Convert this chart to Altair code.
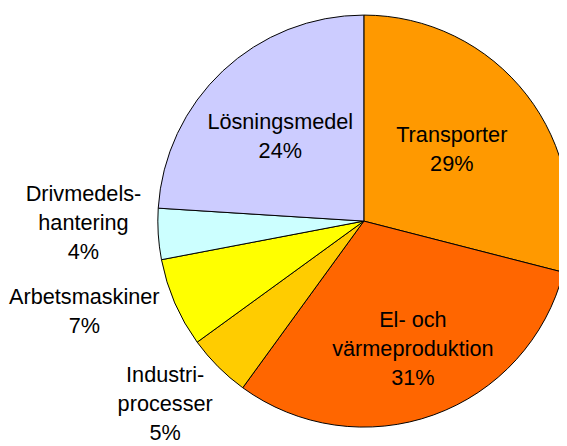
import altair as alt
import pandas as pd

categories = ["Transporter", "El- och värmeproduktion", "Industriprocesser",
              "Arbetsmaskiner", "Drivmedelshantering", "Lösningsmedel"]
label_lines = ["Transporter", "El- och\nvärmeproduktion", "Industri-\nprocesser",
               "Arbetsmaskiner", "Drivmedels-\nhantering", "Lösningsmedel"]
values = [29, 31, 5, 7, 4, 24]
colors = ["#FF9900", "#FF6600", "#FFCC00", "#FFFF00", "#CCFFFF", "#CCCCFF"]
placement = ["in", "in", "out", "out", "out", "in"]

df = pd.DataFrame({
    "cat": categories,
    "lbl": label_lines,
    "value": values,
    "order": list(range(len(categories))),
    "place": placement,
    "nlines": [s.count("\n") + 2 for s in label_lines],
})

CX, CY, R = 361, 213, 209
LH = 29.5
theta_scale = alt.Scale(domain=[0, 100])

base = alt.Chart(df).transform_window(
    cum="sum(value)", sort=[{"field": "order"}], frame=[None, 0]
).transform_calculate(
    start="datum.cum - datum.value",
    mid="datum.cum - datum.value / 2",
    txt="datum.lbl + '\\n' + datum.value + '%'",
)

arcs = base.mark_arc(outerRadius=R, stroke="black", strokeWidth=1).encode(
    theta=alt.Theta("start:Q", scale=theta_scale),
    theta2="cum:Q",
    color=alt.Color("cat:N", scale=alt.Scale(domain=categories, range=colors), legend=None),
    x=alt.value(CX),
    y=alt.value(CY),
)

text_kw = dict(font="Liberation Sans", fontSize=22, lineHeight=LH, lineBreak="\n",
               align="center", baseline="middle", color="black")


def labels(place, n, radius, extra_dy=0, dx=0):
    return base.transform_filter(
        f"datum.place == '{place}' && datum.nlines == {n}"
    ).mark_text(dy=-(n - 1) * LH / 2 + extra_dy, dx=dx, **text_kw).encode(
        theta=alt.Theta("mid:Q", scale=theta_scale),
        radius=alt.value(radius),
        text="txt:N",
        x=alt.value(CX),
        y=alt.value(CY),
    )


chart = alt.layer(
    arcs,
    labels("in", 2, 118, 0, -4),
    labels("in", 3, 138, 0, 3),
    labels("out", 3, 285, -16),
    labels("out", 2, 309, -31),
).properties(
    width=559, height=438, autosize=alt.AutoSizeParams(type="none"), padding=0,
    background="white",
).configure_view(stroke=None)

chart.save("out.html", embed_options={"renderer": "svg", "actions": False})
